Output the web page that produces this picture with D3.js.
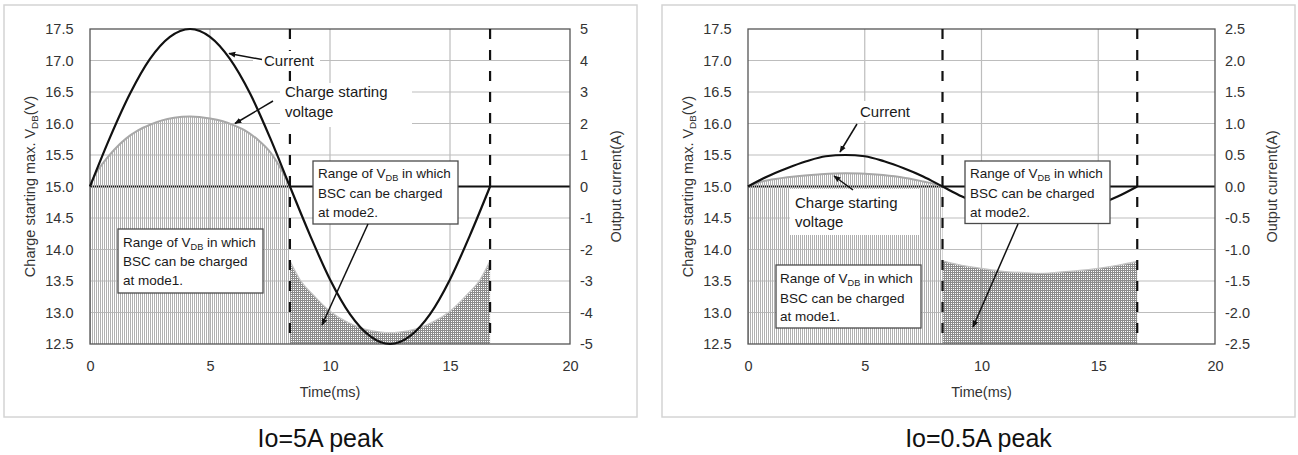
<!DOCTYPE html>
<html><head><meta charset="utf-8">
<script src="https://cdn.jsdelivr.net/npm/d3@7"></script>
<style>
body{margin:0;background:#fff;}
svg{display:block;font-family:"Liberation Sans",Arial,sans-serif;}
</style></head><body>
<svg id="c" width="1298" height="455"></svg>
<script>
// ---------------- DATA ----------------
const timeTicks = [0, 5, 10, 15, 20];
const voltTicks = [12.5, 13, 13.5, 14, 14.5, 15, 15.5, 16, 16.5, 17, 17.5];
const currentTicks5A = [-5, -4, -3, -2, -1, 0, 1, 2, 3, 4, 5];
const currentTicks05A = [-2.5, -2, -1.5, -1, -0.5, 0, 0.5, 1, 1.5, 2, 2.5];
const modeBoundaries = [8.33, 16.67];

const currentTime = [0, 0.83, 1.67, 2.5, 3.33, 4.17, 5, 5.83, 6.67, 7.5, 8.33, 9.17, 10, 10.83, 11.67, 12.5, 13.33, 14.17, 15, 15.83, 16.67];
const current5A  = [0, 1.55, 2.95, 4.05, 4.75, 5.0, 4.75, 4.05, 2.95, 1.55, 0, -1.55, -2.95, -4.05, -4.75, -5.0, -4.75, -4.05, -2.95, -1.55, 0];
const current05A = [0, 0.16, 0.29, 0.40, 0.48, 0.50, 0.48, 0.40, 0.29, 0.16, 0, -0.16, -0.29, -0.40, -0.48, -0.50, -0.48, -0.40, -0.29, -0.16, 0];

const mode1Time5A   = [0, 0.2, 0.5, 1, 1.5, 2, 2.5, 3, 3.5, 4.17, 5, 5.5, 6, 6.5, 7, 7.5, 8, 8.33];
const charge5AMode1 = [15.0, 15.18, 15.35, 15.58, 15.76, 15.89, 15.98, 16.05, 16.09, 16.11, 16.08, 16.04, 15.97, 15.88, 15.74, 15.55, 15.25, 15.0];
const mode2Time5A   = [8.33, 8.75, 9.3, 10, 10.7, 11.4, 12.1, 12.5, 12.9, 13.6, 14.3, 15, 15.7, 16.25, 16.67];
const charge5AMode2 = [13.82, 13.52, 13.28, 13.02, 12.85, 12.74, 12.69, 12.68, 12.69, 12.74, 12.85, 13.02, 13.28, 13.52, 13.82];

const mode1Time05A   = [0, 0.5, 1, 2, 3, 4.17, 5.5, 6.5, 7.5, 8, 8.33];
const charge05AMode1 = [15.0, 15.07, 15.11, 15.16, 15.19, 15.21, 15.19, 15.15, 15.08, 15.04, 15.0];
const mode2Time05A   = [8.33, 9, 10, 11, 12, 12.5, 13, 14, 15, 16, 16.67];
const charge05AMode2 = [13.82, 13.76, 13.70, 13.65, 13.63, 13.62, 13.63, 13.66, 13.70, 13.76, 13.81];

const chartTitles = ["Io=5A peak", "Io=0.5A peak"];
const xTitle = "Time(ms)";
const yRightTitle = "Output current(A)";

// ---------------- LAYOUT ----------------
const FONT = '"Liberation Sans",Arial,sans-serif';
const svg = d3.select("#c");
const defs = svg.append("defs");
const p1 = defs.append("pattern").attr("id", "hatch1").attr("patternUnits", "userSpaceOnUse").attr("width", 2).attr("height", 2);
p1.append("rect").attr("width", 1).attr("height", 2).attr("fill", "#b0b0b0");
const p2 = defs.append("pattern").attr("id", "hatch2").attr("patternUnits", "userSpaceOnUse").attr("width", 2).attr("height", 2);
p2.append("rect").attr("width", 2).attr("height", 1).attr("fill", "#8c8c8c");
p2.append("rect").attr("y", 1).attr("width", 1).attr("height", 1).attr("fill", "#8c8c8c");
defs.append("marker").attr("id", "arr").attr("viewBox", "0 0 10 10").attr("refX", 9).attr("refY", 5)
  .attr("markerWidth", 7).attr("markerHeight", 7).attr("markerUnits", "userSpaceOnUse").attr("orient", "auto")
  .append("path").attr("d", "M0,1 L10,5 L0,9 Z").attr("fill", "#111");

function subText(sel, parts, size) {
  parts.forEach(p => {
    if (p.sub) {
      sel.append("tspan").text(p.t).attr("font-size", size * 0.68).attr("dy", 3);
    } else {
      const ts = sel.append("tspan").text(p.t);
      if (p.back) ts.attr("dy", -3);
    }
  });
}
const rangeLine1 = [{t: "Range of V"}, {t: "DB", sub: true}, {t: " in which", back: true}];

const charts = [
  {
    frame: {x: 4, y: 5, w: 633, h: 412},
    P: {l: 90, r: 570, t: 29, b: 344},
    iDomain: [-5, 5], iTicks: currentTicks5A, iFmt: d => String(d),
    cur: current5A, m1t: mode1Time5A, m1v: charge5AMode1, m2t: mode2Time5A, m2v: charge5AMode2,
    title: chartTitles[0], yLabelX: 30, yRLabelX: 616,
    ann: {
      curText: [174, 36.5], curBg: [163, 22, 67, 19], curArrow: [[172, 30.5], [139, 24.5]],
      chgText: [195, 68, 87.7], chgBg: [190, 54, 132, 44], chgArrow: [[183, 72], [145, 94.5]],
      m2Box: [223, 132, 145, 63], m2Text: [228, 149.3, 169, 187.7], m2Arrow: [[278, 195], [232, 296]],
      m1Box: [28, 200, 145, 64], m1Text: [33, 217.7, 237, 256]
    }
  },
  {
    frame: {x: 662, y: 5, w: 633, h: 412},
    P: {l: 748, r: 1215, t: 29, b: 344},
    iDomain: [-2.5, 2.5], iTicks: currentTicks05A, iFmt: d => d.toFixed(1),
    cur: current05A, m1t: mode1Time05A, m1v: charge05AMode1, m2t: mode2Time05A, m2v: charge05AMode2,
    title: chartTitles[1], yLabelX: 688, yRLabelX: 1272,
    ann: {
      curText: [112, 87.7], curBg: [107, 72, 63, 20], curArrow: [[109, 95], [92, 123]],
      chgText: [47, 179, 198], chgBg: [42, 160, 130, 46], chgArrow: [[105, 161], [86, 147]],
      m2Box: [217, 132, 145, 62.5], m2Text: [222, 149.3, 169.3, 187.7], m2Arrow: [[270, 195], [225, 298]],
      m1Box: [28, 236, 145, 63], m1Text: [32, 254.3, 273.5, 292]
    }
  }
];

charts.forEach(C => {
  const P = C.P;
  const g = svg.append("g");
  const x = d3.scaleLinear().domain([0, 20]).range([P.l, P.r]);
  const yV = d3.scaleLinear().domain([12.5, 17.5]).range([P.b, P.t]);
  const yI = d3.scaleLinear().domain(C.iDomain).range([P.b, P.t]);

  // outer frame
  g.append("rect").attr("x", C.frame.x).attr("y", C.frame.y).attr("width", C.frame.w).attr("height", C.frame.h)
    .attr("fill", "#fff").attr("stroke", "#d4d4d4").attr("stroke-width", 1.5);

  // grid
  g.append("g").selectAll("line").data(voltTicks.filter(v => v > 12.5 && v < 17.5)).join("line")
    .attr("x1", P.l).attr("x2", P.r).attr("y1", d => yV(d)).attr("y2", d => yV(d))
    .attr("stroke", "#bdbdbd").attr("stroke-width", 1.2);
  g.append("g").selectAll("line").data(timeTicks.filter(t => t > 0 && t < 20)).join("line")
    .attr("y1", P.t).attr("y2", P.b).attr("x1", d => x(d)).attr("x2", d => x(d))
    .attr("stroke", "#bdbdbd").attr("stroke-width", 1.2);

  // secondary x-axis line at current = 0
  g.append("line").attr("x1", P.l).attr("x2", P.r).attr("y1", yI(0)).attr("y2", yI(0))
    .attr("stroke", "#111").attr("stroke-width", 2);

  // charge starting voltage areas
  const m1 = C.m1t.map((t, i) => [t, C.m1v[i]]);
  const m2 = C.m2t.map((t, i) => [t, C.m2v[i]]);
  const area = d3.area().x(d => x(d[0])).y0(yV(12.5)).y1(d => yV(d[1])).curve(d3.curveMonotoneX);
  const line = d3.line().x(d => x(d[0])).y(d => yV(d[1])).curve(d3.curveMonotoneX);
  g.append("path").attr("d", area(m1)).attr("fill", "url(#hatch1)");
  g.append("path").attr("d", area(m2)).attr("fill", "url(#hatch2)");
  g.append("path").attr("d", line(m1)).attr("fill", "none").attr("stroke", "#a8a8a8").attr("stroke-width", 2);
  g.append("path").attr("d", line(m2)).attr("fill", "none").attr("stroke", "#c4c4c4").attr("stroke-width", 1.3);

  // plot border
  g.append("rect").attr("x", P.l).attr("y", P.t).attr("width", P.r - P.l).attr("height", P.b - P.t)
    .attr("fill", "none").attr("stroke", "#555").attr("stroke-width", 1.3);

  // mode boundaries
  g.append("g").selectAll("line").data(modeBoundaries).join("line")
    .attr("x1", d => x(d)).attr("x2", d => x(d)).attr("y1", P.t).attr("y2", P.b)
    .attr("stroke", "#111").attr("stroke-width", 2.2).attr("stroke-dasharray", "10,11");

  // current
  const cur = currentTime.map((t, i) => [t, C.cur[i]]);
  g.append("path").attr("d", d3.line().x(d => x(d[0])).y(d => yI(d[1])).curve(d3.curveMonotoneX)(cur))
    .attr("fill", "none").attr("stroke", "#111").attr("stroke-width", 2.2);

  // axes
  const styleAxis = ax => {
    ax.select(".domain").remove();
    ax.attr("font-size", null).attr("font-family", null);
    ax.selectAll("text").attr("font-size", 14.5).attr("font-family", FONT).attr("fill", "#333");
  };
  g.append("g").attr("transform", `translate(0,${P.b})`)
    .call(d3.axisBottom(x).tickValues(timeTicks).tickSize(0).tickPadding(17)).call(styleAxis);
  g.append("g").attr("transform", `translate(${P.l},0)`)
    .call(d3.axisLeft(yV).tickValues(voltTicks).tickFormat(d => d.toFixed(1)).tickSize(0).tickPadding(16.5)).call(styleAxis);
  g.append("g").attr("transform", `translate(${P.r},0)`)
    .call(d3.axisRight(yI).tickValues(C.iTicks).tickFormat(C.iFmt).tickSize(0).tickPadding(10)).call(styleAxis);

  // axis titles
  g.append("text").attr("x", (P.l + P.r) / 2).attr("y", 396.5).attr("text-anchor", "middle")
    .attr("font-size", 14.5).attr("fill", "#333").text(xTitle);
  const yl = g.append("text").attr("transform", `translate(${C.yLabelX + 5},${(P.t + P.b) / 2}) rotate(-90)`)
    .attr("text-anchor", "middle").attr("font-size", 14.5).attr("fill", "#333");
  subText(yl, [{t: "Charge starting max. V"}, {t: "DB", sub: true}, {t: "(V)", back: true}], 14.5);
  g.append("text").attr("transform", `translate(${C.yRLabelX + 5},${(P.t + P.b) / 2}) rotate(-90)`)
    .attr("text-anchor", "middle").attr("font-size", 14.5).attr("fill", "#333").text(yRightTitle);

  // chart title
  g.append("text").attr("x", C.frame.x + C.frame.w / 2).attr("y", 447).attr("text-anchor", "middle")
    .attr("font-size", 25).attr("fill", "#111").text(C.title);

  // annotations (positions relative to plot origin)
  const A = C.ann;
  const ox = P.l, oy = P.t;
  const a = g.append("g");
  const arrow = (pts) => a.append("line").attr("x1", ox + pts[0][0]).attr("y1", oy + pts[0][1])
    .attr("x2", ox + pts[1][0]).attr("y2", oy + pts[1][1]).attr("stroke", "#111").attr("stroke-width", 1.5)
    .attr("marker-end", "url(#arr)");
  const bg = (r) => a.append("rect").attr("x", ox + r[0]).attr("y", oy + r[1]).attr("width", r[2]).attr("height", r[3]).attr("fill", "#fff");
  const box = (r) => a.append("rect").attr("x", ox + r[0]).attr("y", oy + r[1]).attr("width", r[2]).attr("height", r[3])
    .attr("fill", "#fff").attr("stroke", "#4a4a4a").attr("stroke-width", 1.3);

  bg(A.curBg);
  a.append("text").attr("x", ox + A.curText[0]).attr("y", oy + A.curText[1]).attr("font-size", 15).attr("fill", "#1a1a1a").text("Current");
  arrow(A.curArrow);

  bg(A.chgBg);
  a.append("text").attr("x", ox + A.chgText[0]).attr("y", oy + A.chgText[1]).attr("font-size", 15).attr("fill", "#1a1a1a").text("Charge starting");
  a.append("text").attr("x", ox + A.chgText[0]).attr("y", oy + A.chgText[2]).attr("font-size", 15).attr("fill", "#1a1a1a").text("voltage");
  arrow(A.chgArrow);

  [[A.m2Box, A.m2Text, "at mode2.", A.m2Arrow], [A.m1Box, A.m1Text, "at mode1.", null]].forEach(([bx, tx, last, arr]) => {
    box(bx);
    const t1 = a.append("text").attr("x", ox + tx[0]).attr("y", oy + tx[1]).attr("font-size", 13.5).attr("fill", "#1a1a1a");
    subText(t1, rangeLine1, 13.5);
    a.append("text").attr("x", ox + tx[0]).attr("y", oy + tx[2]).attr("font-size", 13.5).attr("fill", "#1a1a1a").text("BSC can be charged");
    a.append("text").attr("x", ox + tx[0]).attr("y", oy + tx[3]).attr("font-size", 13.5).attr("fill", "#1a1a1a").text(last);
    if (arr) arrow(arr);
  });
});
</script>
</body></html>
